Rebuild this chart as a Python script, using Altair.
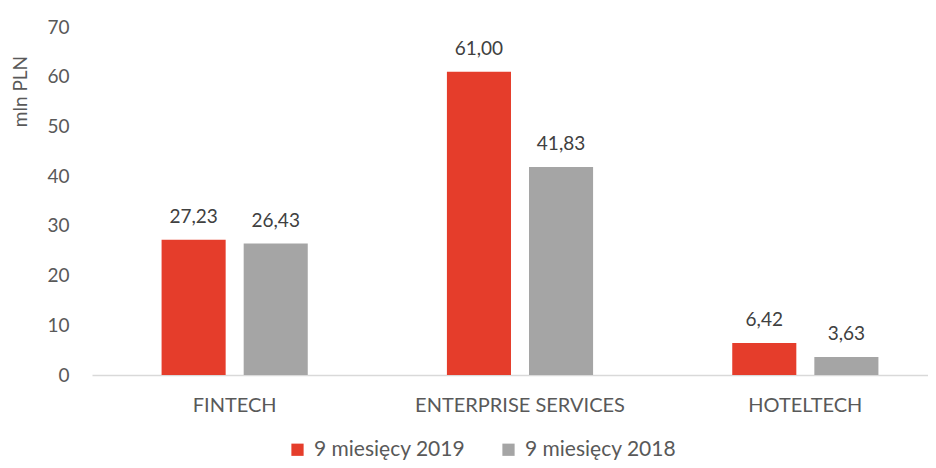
import altair as alt
import pandas as pd

categories = ["FINTECH", "ENTERPRISE SERVICES", "HOTELTECH"]
series = ["9 miesięcy 2019", "9 miesięcy 2018"]
values_2019 = [27.23, 61.00, 6.42]
values_2018 = [26.43, 41.83, 3.63]
colors = ["#E53D2B", "#A5A5A5"]

rows = []
for c, a, b in zip(categories, values_2019, values_2018):
    rows.append({"kat": c, "seria": series[0], "v": a})
    rows.append({"kat": c, "seria": series[1], "v": b})
df = pd.DataFrame(rows)

FONT = "Lato"

x = alt.X("kat:N", sort=categories, title=None,
          scale=alt.Scale(paddingInner=0, paddingOuter=0, range=[0, 856]),
          axis=alt.Axis(labelAngle=0, ticks=False, domainColor="#D9D9D9",
                        domainWidth=1.3, labelPadding=20, labelFont=FONT,
                        labelFontSize=20, labelColor="#595959", grid=False,
                        labelLimit=0))
xoff = alt.XOffset("seria:N", sort=series,
                   scale=alt.Scale(paddingInner=0.2195, paddingOuter=0.8476))
y = alt.Y("v:Q", title="mln PLN",
          scale=alt.Scale(domain=[0, 70], nice=False),
          axis=alt.Axis(values=[0, 10, 20, 30, 40, 50, 60, 70], domain=False,
                        ticks=False, grid=False, labelPadding=23,
                        labelFont=FONT, labelFontSize=19, labelColor="#595959",
                        titleFont=FONT, titleFontSize=19, titleColor="#595959",
                        titleFontWeight="normal", titleAngle=270,
                        titleAlign="center", titleBaseline="middle",
                        titleX=-72, titleY=64))
color = alt.Color("seria:N", sort=series,
                  scale=alt.Scale(domain=series, range=colors),
                  legend=alt.Legend(title=None, orient="none", direction="horizontal",
                                    legendX=195, legendY=412, symbolType="square",
                                    symbolSize=150, symbolStrokeWidth=0,
                                    labelFont=FONT, labelFontSize=21,
                                    labelColor="#595959", labelOffset=6,
                                    columnPadding=32, labelLimit=0))

bars = alt.Chart(df).mark_bar().encode(x=x, xOffset=xoff, y=y, color=color)

labels = alt.Chart(df).transform_calculate(
    lbl="replace(format(datum.v, '.2f'), '.', ',')"
).mark_text(font=FONT, fontSize=19, color="#404040", baseline="alphabetic", dy=-17).encode(
    x=alt.X("kat:N", sort=categories), xOffset=alt.XOffset("seria:N", sort=series),
    y="v:Q", text="lbl:N")

chart = (bars + labels).properties(
    width=836, height=348,
    autosize=alt.AutoSizeParams(type="none"),
    padding={"left": 84, "top": 19, "right": 0, "bottom": 85},
).configure_view(stroke=None)

chart.save("out.html", embed_options={"renderer": "svg", "actions": False})
